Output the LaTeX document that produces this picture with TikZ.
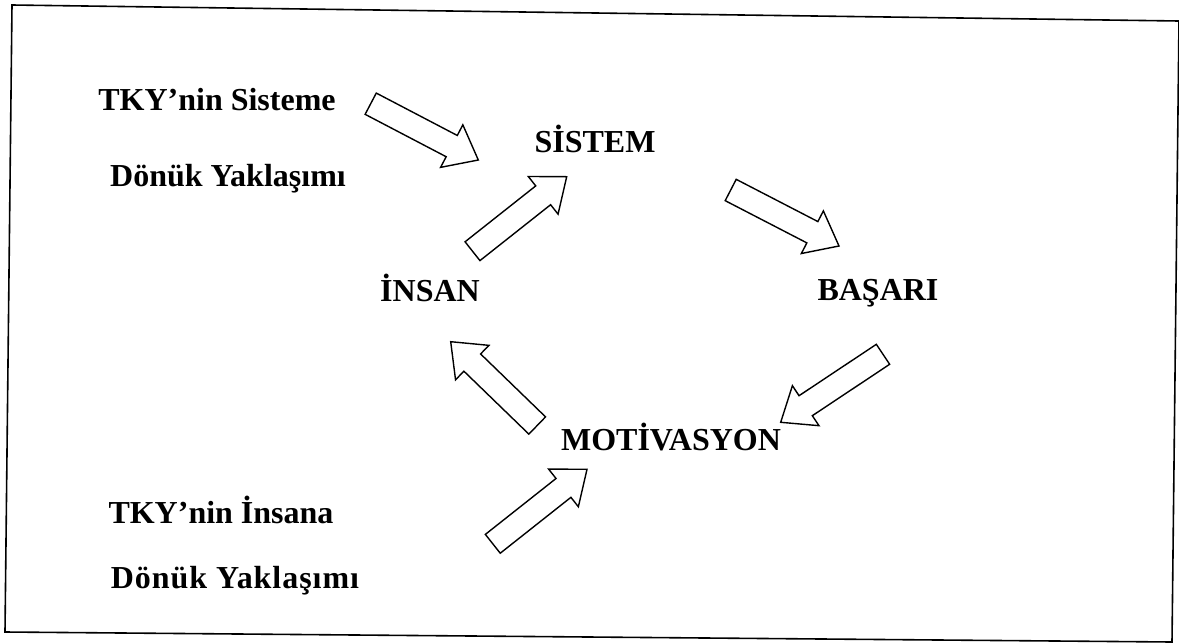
\documentclass[tikz,border=0pt]{standalone}
\usepackage{fontspec}
\setmainfont{Liberation Serif}
\usetikzlibrary{calc}

\tikzset{
  frame/.style={draw=black, line width=1.6pt},
  hollowarrow/.style={draw=black, fill=white, line width=1.4pt, line join=miter},
  label/.style={font=\fontsize{32}{38}\selectfont\bfseries, inner sep=0pt, anchor=base}
}

% Hollow block arrow from tail point #1 to tip point #2
\newcommand\blockarrow[2]{%
  \coordinate (ba-neck) at ($(#2)!30pt!(#1)$);
  \draw[hollowarrow]
    ($(#1)!12pt!90:(#2)$) --
    ($(ba-neck)!12pt!90:(#2)$) --
    ($(ba-neck)!24pt!90:(#2)$) --
    (#2) --
    ($(ba-neck)!24pt!-90:(#2)$) --
    ($(ba-neck)!12pt!-90:(#2)$) --
    ($(#1)!12pt!-90:(#2)$) -- cycle;
}

\begin{document}
\begin{tikzpicture}[x=1pt, y=-1pt]
  \useasboundingbox (0,0) rectangle (1179,643);

  % outer frame
  \draw[frame] (12,5) -- (1179,21) -- (1172,642) -- (5,632) -- cycle;

  % approach labels
  \node[label] (sys1) at (217,110) {TKY’nin Sisteme};
  \node[label] (sys2) at (228,186) {Dönük Yaklaşımı};
  \node[label] (hum1) at (221,523) {TKY’nin İnsana};
  \node[label] (hum2) at (235,588) {\addfontfeature{LetterSpace=3}Dönük Yaklaşımı};

  % cycle labels
  \node[label] (sistem) at (595,152) {SİSTEM};
  \node[label] (insan)  at (430,301) {İNSAN};
  \node[label] (basari) at (878,300) {BAŞARI};
  \node[label] (motiv)  at (671,450) {MOTİVASYON};

  % arrow end points
  \coordinate (a1s) at (370.7,103.7); \coordinate (a1e) at (478.3,160);
  \coordinate (a2s) at (472.5,251.2); \coordinate (a2e) at (566.7,176.7);
  \coordinate (a3s) at (730.7,190);   \coordinate (a3e) at (839,246);
  \coordinate (a4s) at (883,354.3);   \coordinate (a4e) at (780.7,422.3);
  \coordinate (a5s) at (537.2,425.5); \coordinate (a5e) at (450.7,341.7);
  \coordinate (a6s) at (492.8,543.8); \coordinate (a6e) at (587,469.3);

  \blockarrow{a1s}{a1e}
  \blockarrow{a2s}{a2e}
  \blockarrow{a3s}{a3e}
  \blockarrow{a4s}{a4e}
  \blockarrow{a5s}{a5e}
  \blockarrow{a6s}{a6e}
\end{tikzpicture}
\end{document}
